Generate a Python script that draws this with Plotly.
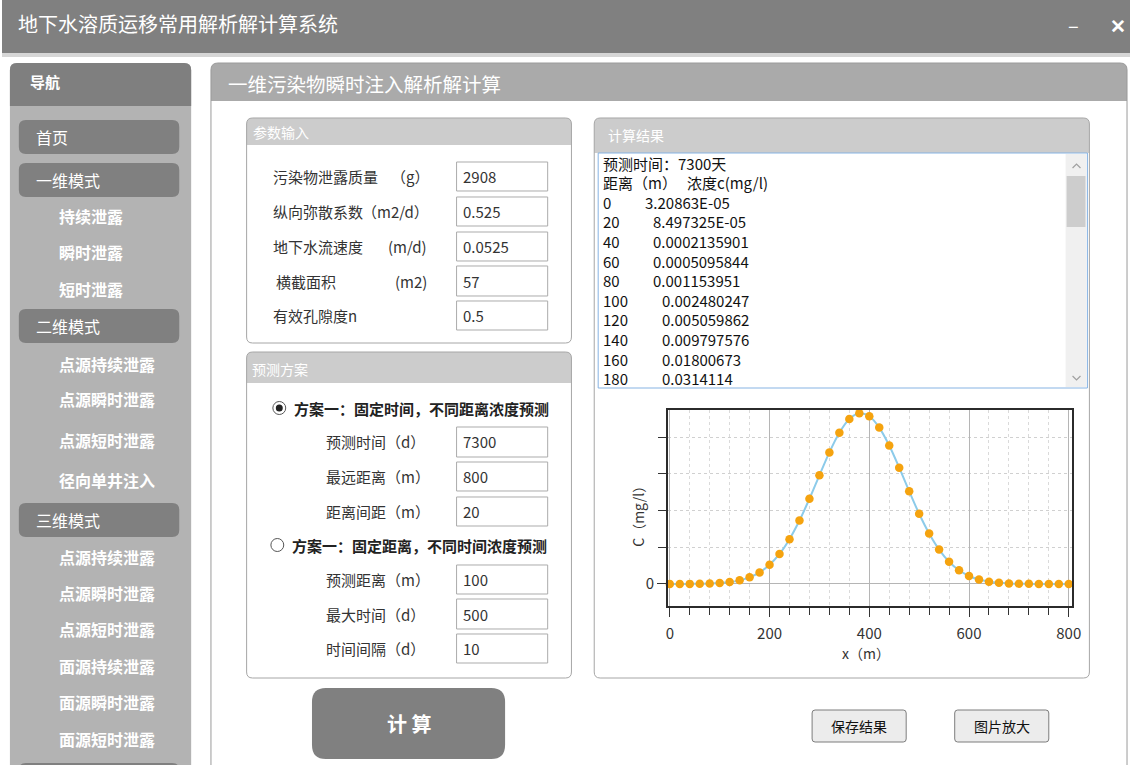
import plotly.graph_objects as go

W, H = 1139, 765
FONT = "Noto Sans CJK SC"

# ---------------- data ----------------
app_title = "地下水溶质运移常用解析解计算系统"
page_title = "一维污染物瞬时注入解析解计算"
nav_header = "导航"
nav_labels = ["首页", "一维模式", "持续泄露", "瞬时泄露", "短时泄露",
              "二维模式", "点源持续泄露", "点源瞬时泄露", "点源短时泄露", "径向单井注入",
              "三维模式", "点源持续泄露", "点源瞬时泄露", "点源短时泄露",
              "面源持续泄露", "面源瞬时泄露", "面源短时泄露"]
nav_kinds = ["group", "group", "sub", "sub", "sub",
             "group", "sub", "sub", "sub", "sub",
             "group", "sub", "sub", "sub", "sub", "sub", "sub"]

param_title = "参数输入"
param_names = ["污染物泄露质量", "纵向弥散系数", "地下水流速度", "横截面积", "有效孔隙度n"]
param_units = ["（g）", "（m2/d）", "(m/d)", "(m2)", ""]
param_values = ["2908", "0.525", "0.0525", "57", "0.5"]

plan_title = "预测方案"
plan_options = ["方案一：固定时间，不同距离浓度预测", "方案一：固定距离，不同时间浓度预测"]
plan1_names = ["预测时间（d）", "最远距离（m）", "距离间距（m）"]
plan1_values = ["7300", "800", "20"]
plan2_names = ["预测距离（m）", "最大时间（d）", "时间间隔（d）"]
plan2_values = ["100", "500", "10"]

result_title = "计算结果"
result_head1 = "预测时间：7300天"
result_head2a = "距离（m）"
result_head2b = "浓度c(mg/l)"
result_dist = ["0", "20", "40", "60", "80", "100", "120", "140", "160", "180"]
result_conc = ["3.20863E-05", "8.497325E-05", "0.0002135901", "0.0005095844", "0.001153951",
               "0.002480247", "0.005059862", "0.009797576", "0.01800673", "0.0314114"]

x_dist = [0, 20, 40, 60, 80, 100, 120, 140, 160, 180,
          200, 220, 240, 260, 280, 300, 320, 340, 360, 380,
          400, 420, 440, 460, 480, 500, 520, 540, 560, 580,
          600, 620, 640, 660, 680, 700, 720, 740, 760, 780, 800]
conc = [3.20863e-05, 8.497325e-05, 0.0002135901, 0.0005095844, 0.001153951,
        0.002480247, 0.005059862, 0.009797576, 0.01800673, 0.0314114,
        0.05201, 0.08173, 0.12192, 0.17260, 0.23194, 0.29584, 0.35817, 0.41154, 0.44884, 0.46463,
        0.45652, 0.42574, 0.37684, 0.31662, 0.25248, 0.19109, 0.13729, 0.09361, 0.06059, 0.03722,
        0.02170, 0.01201, 0.006308, 0.003144, 0.001488, 0.000669, 0.000285, 0.000115, 4.37e-5, 1.61e-5,
        5.6e-6]
x_tick_vals = [0, 200, 400, 600, 800]
y_tick_vals = [0]
y_tick_text = ["0"]
x_title = "x（m）"
y_title = "C（mg/l）"

btn_calc = "计 算"
btn_save = "保存结果"
btn_zoom = "图片放大"

# ---------------- helpers ----------------
def P(x, y):
    return f"{x / W:.6f},{1 - y / H:.6f}"

shapes = []
annotations = []


def rrect(x0, y0, x1, y1, fill=None, line=None, lw=1, rt=0, rb=0):
    p = [f"M {P(x0 + rt, y0)}", f"L {P(x1 - rt, y0)}", f"Q {P(x1, y0)} {P(x1, y0 + rt)}",
         f"L {P(x1, y1 - rb)}", f"Q {P(x1, y1)} {P(x1 - rb, y1)}", f"L {P(x0 + rb, y1)}",
         f"Q {P(x0, y1)} {P(x0, y1 - rb)}", f"L {P(x0, y0 + rt)}", f"Q {P(x0, y0)} {P(x0 + rt, y0)}", "Z"]
    shapes.append(dict(type="path", path=" ".join(p), xref="paper", yref="paper", layer="below",
                       fillcolor=fill if fill else "rgba(0,0,0,0)",
                       line=dict(color=line if line else "rgba(0,0,0,0)", width=lw if line else 0)))


def circle(cx, cy, r, fill=None, line=None, lw=1):
    shapes.append(dict(type="circle", xref="paper", yref="paper", layer="below",
                       x0=(cx - r) / W, x1=(cx + r) / W, y0=1 - (cy + r) / H, y1=1 - (cy - r) / H,
                       fillcolor=fill if fill else "rgba(0,0,0,0)",
                       line=dict(color=line if line else "rgba(0,0,0,0)", width=lw if line else 0)))


def polyline(pts, color, lw=1):
    p = "M " + " L ".join(P(x, y) for x, y in pts)
    shapes.append(dict(type="path", path=p, xref="paper", yref="paper", layer="below",
                       line=dict(color=color, width=lw)))


def T(x, y, text, size=15, color="#333333", bold=False, anchor="left", angle=0):
    if bold:
        text = f"<b>{text}</b>"
    annotations.append(dict(x=x / W, y=1 - y / H, xref="paper", yref="paper", text=text,
                            showarrow=False, xanchor=anchor, yanchor="middle", textangle=angle,
                            font=dict(family=FONT, size=size, color=color)))


# ---------------- window chrome ----------------
rrect(0, 0, W, H, fill="#ffffff")
rrect(0, 0, W, 53, fill="#808080")
rrect(0, 53, W, 57, fill="#d6d6d6")
T(14, 23, app_title, size=20, color="#ffffff")
T(1082, 24, "–", size=20, color="#ffffff", anchor="center")
T(1127, 25, "✕", size=19, color="#ffffff", anchor="center", bold=True)

# ---------------- navigation ----------------
rrect(8, 63, 191, 800, fill="#b3b3b3", rt=7)
rrect(8, 63, 191, 106, fill="#7f7f7f", rt=7)
T(26, 82, nav_header, size=15, color="#ffffff", bold=True)
nav_y = [137, 180, 216, 252, 289, 326, 364, 399, 440, 480, 520, 557, 593, 629, 666, 702, 739]
for lab, kind, yc in zip(nav_labels, nav_kinds, nav_y):
    if kind == "group":
        rrect(17, yc - 17, 179, yc + 17, fill="#808080", rt=7, rb=7)
        T(32, yc, lab, size=16, color="#ffffff")
    else:
        T(56, yc, lab, size=16, color="#ffffff", bold=True)
rrect(17, 763, 179, 800, fill="#808080", rt=7, rb=7)

# ---------------- main panel ----------------
rrect(211, 63, 1136, 800, fill="#ffffff", rt=7)
rrect(211, 63, 1136, 101, fill="#aaaaaa", rt=7)
rrect(211, 63, 1136, 800, line="#9a9a9a", lw=1, rt=7)
T(226, 83, page_title, size=19.5, color="#ffffff")

# parameter box
rrect(247, 118, 575, 343, fill="#ffffff", rt=6, rb=6)
rrect(247, 118, 575, 145, fill="#cccccc", rt=6)
rrect(247, 118, 575, 343, line="#a6a6a6", lw=1, rt=6, rb=6)
T(251, 132, param_title, size=14, color="#ffffff")
p_rows = [(162, 191), (197, 226), (232, 261), (266, 296), (301, 330)]
for (y0, y1), nm, un, val in zip(p_rows, param_names, param_units, param_values):
    yc = (y0 + y1) / 2
    T(272 if nm != "横截面积" else 275, yc, nm, size=15)
    if un:
        T(433 if un.startswith("（") else 431, yc, un, size=15, anchor="right")
    rrect(459, y0, 551, y1, fill="#ffffff", line="#ababab", lw=1)
    T(463, yc, val, size=15)

# plan box
rrect(247, 352, 575, 678, fill="#ffffff", rt=6, rb=6)
rrect(247, 352, 575, 383, fill="#cccccc", rt=6)
rrect(247, 352, 575, 678, line="#a6a6a6", lw=1, rt=6, rb=6)
T(250, 369, plan_title, size=14, color="#ffffff")
circle(280, 408, 6.5, fill="#ffffff", line="#555555", lw=1)
circle(280, 408, 3.5, fill="#222222")
T(293, 408, plan_options[0], size=15, color="#222222", bold=True)
circle(278, 545, 6.5, fill="#ffffff", line="#555555", lw=1)
T(291, 545, plan_options[1], size=15, color="#222222", bold=True)
r1 = [(427, 457), (462, 491), (497, 526)]
r2 = [(565, 594), (599, 629), (634, 663)]
for rows, names, vals in ((r1, plan1_names, plan1_values), (r2, plan2_names, plan2_values)):
    for (y0, y1), nm, val in zip(rows, names, vals):
        yc = (y0 + y1) / 2
        T(325, yc, nm, size=15)
        rrect(459, y0, 551, y1, fill="#ffffff", line="#ababab", lw=1)
        T(463, yc, val, size=15)

# result box
rrect(598, 118, 1098, 678, fill="#ffffff", rt=6, rb=6)
rrect(598, 118, 1098, 153, fill="#cccccc", rt=6)
rrect(598, 118, 1098, 678, line="#a6a6a6", lw=1, rt=6, rb=6)
T(610, 135, result_title, size=14, color="#ffffff")
rrect(1074, 154, 1095, 387, fill="#f0f0f0")
rrect(1075, 176, 1094, 227, fill="#cdcdcd")
polyline([(1081, 168), (1085, 164), (1089, 168)], "#a0a0a0", 1.2)
polyline([(1081, 376), (1085, 380), (1089, 376)], "#a0a0a0", 1.2)
rrect(602, 153, 1096, 388, line="#86b3e3", lw=1)
line_h = 19.6
T(605, 163, result_head1, size=15, color="#111111")
T(605, 163 + line_h, result_head2a, size=15, color="#111111")
T(690, 163 + line_h, result_head2b, size=15, color="#111111")
for i, (d, c) in enumerate(zip(result_dist, result_conc)):
    yc = 163 + (i + 2) * line_h
    T(605, yc, d, size=15, color="#111111")
    T(606 + 8.4 * len(d) + 33, yc, c, size=15, color="#111111")

# buttons
rrect(313, 688, 508, 759, fill="#808080", rt=14, rb=14)
T(411, 723, btn_calc, size=20, color="#ffffff", bold=True, anchor="center")
rrect(818, 710, 913, 742, fill="#ececec", line="#7d7d7d", lw=1, rt=3, rb=3)
T(865.5, 726, btn_save, size=14, color="#111111", anchor="center")
rrect(962, 710, 1057, 742, fill="#ececec", line="#7d7d7d", lw=1, rt=3, rb=3)
T(1009.5, 726, btn_zoom, size=14, color="#111111", anchor="center")

# axis titles
T(872, 653, x_title, size=14, color="#333333", anchor="center")
T(642, 513, y_title, size=14, color="#333333", anchor="center", angle=-90)

# ---------------- chart ----------------
fig = go.Figure()
fig.add_trace(go.Scatter(
    x=x_dist, y=conc, mode="lines+markers",
    line=dict(color="#8ccbea", width=2, shape="spline", smoothing=0.8),
    marker=dict(color="#f5a30f", size=8.5, line=dict(width=0)),
    hoverinfo="skip", cliponaxis=False))

fig.update_layout(
    autosize=True, margin=dict(l=0, r=0, t=0, b=0, pad=0),
    paper_bgcolor="#ffffff", plot_bgcolor="rgba(0,0,0,0)",
    showlegend=False, hovermode=False,
    shapes=shapes, annotations=annotations,
    font=dict(family=FONT, color="#333333"),
    xaxis=dict(domain=[672.3 / W, 1080.7 / W], range=[-4, 807], tickmode="array",
               tickvals=x_tick_vals, ticks="outside", ticklen=9, tickcolor="#333333",
               showgrid=True, gridcolor="#b5b5b5", gridwidth=1, zeroline=False,
               showline=True, linecolor="#2b2b2b", linewidth=1.5, mirror=True,
               tickfont=dict(family=FONT, size=15, color="#333333"), ticklabelstandoff=4,
               minor=dict(tick0=0, dtick=40, ticks="outside", ticklen=7, tickcolor="#333333",
                          showgrid=True, gridcolor="#dadada", griddash="dot", gridwidth=1),
               fixedrange=True),
    yaxis=dict(domain=[1 - 606 / H, 1 - 410 / H], range=[-0.06, 0.4736], tickmode="array",
               tickvals=y_tick_vals, ticktext=y_tick_text, ticks="outside", ticklen=9,
               tickcolor="#333333", showgrid=True, gridcolor="#b5b5b5", zeroline=False,
               showline=True, linecolor="#2b2b2b", linewidth=1.5, mirror=True,
               tickfont=dict(family=FONT, size=15, color="#333333"),
               minor=dict(tick0=0, dtick=0.1, ticks="outside", ticklen=8, tickcolor="#333333",
                          showgrid=True, gridcolor="#d0d0d0", griddash="dot", gridwidth=1),
               fixedrange=True),
)

post = ("document.documentElement.style.margin='0';"
        "document.documentElement.style.overflow='hidden';"
        "document.body.style.margin='0';document.body.style.padding='0';"
        "document.body.style.overflow='hidden';"
        "var gd=document.getElementById('{plot_id}');"
        "gd.style.width='100vw';gd.style.height='100vh';"
        "Plotly.Plots.resize(gd);")

fig.write_html("out.html", config={"displayModeBar": False, "responsive": True},
               default_width="100vw", default_height="100vh", post_script=post)
